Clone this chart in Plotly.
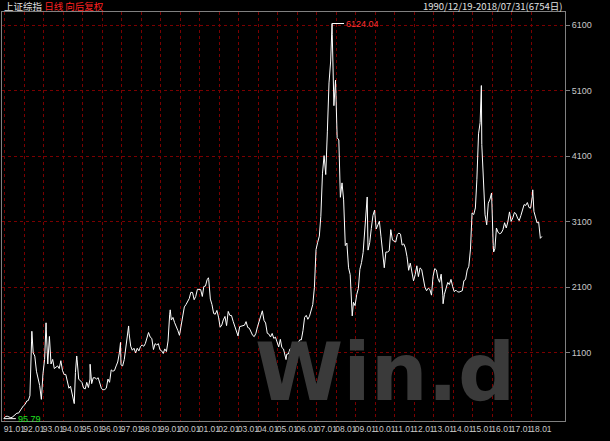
import plotly.graph_objects as go

# monthly approximate levels of 上证综指
years = list(range(1991, 2019))
monthly = {
    1991: [129, 133, 120, 113, 114, 137, 146, 180, 180, 218, 259, 292],
    1992: [313, 365, 372, 445, 1266, 1100, 1050, 820, 720, 600, 390, 780],
    1993: [1000, 1450, 930, 1350, 930, 1000, 860, 880, 900, 860, 980, 833],
    1994: [770, 770, 640, 560, 590, 470, 333, 800, 1000, 700, 680, 648],
    1995: [560, 550, 650, 570, 700, 630, 720, 720, 700, 720, 620, 555],
    1996: [537, 540, 560, 700, 650, 840, 820, 830, 900, 960, 1100, 917],
    1997: [900, 1000, 1150, 1350, 1400, 1200, 1140, 1170, 1100, 1170, 1130, 1194],
    1998: [1220, 1200, 1240, 1340, 1410, 1340, 1320, 1150, 1240, 1220, 1240, 1146],
    1999: [1130, 1090, 1160, 1120, 1280, 1690, 1600, 1640, 1560, 1510, 1440, 1367],
    2000: [1535, 1714, 1800, 1836, 1894, 1928, 2023, 2021, 1910, 1961, 2070, 2073],
    2001: [2065, 1960, 2112, 2119, 2214, 2218, 1920, 1834, 1700, 1689, 1747, 1646],
    2002: [1490, 1525, 1603, 1655, 1515, 1732, 1671, 1670, 1581, 1507, 1444, 1358],
    2003: [1500, 1511, 1510, 1521, 1576, 1487, 1476, 1421, 1367, 1348, 1397, 1497],
    2004: [1590, 1675, 1741, 1595, 1555, 1399, 1386, 1342, 1396, 1320, 1340, 1266],
    2005: [1191, 1306, 1181, 1159, 1060, 1080, 1083, 1162, 1155, 1092, 1099, 1161],
    2006: [1258, 1299, 1298, 1440, 1641, 1672, 1612, 1658, 1752, 1837, 2099, 2675],
    2007: [2786, 2881, 3183, 3841, 4109, 3820, 4471, 5218, 5552, 5954, 4871, 5261],
    2008: [4383, 4348, 3473, 3693, 3433, 2736, 2775, 2397, 2293, 1729, 1871, 1820],
    2009: [1990, 2082, 2373, 2477, 2632, 2959, 3412, 2667, 2779, 2996, 3195, 3277],
    2010: [2989, 3051, 3109, 2870, 2592, 2398, 2638, 2638, 2656, 2979, 2820, 2808],
    2011: [2790, 2905, 2928, 2911, 2743, 2762, 2701, 2567, 2359, 2468, 2333, 2199],
    2012: [2292, 2428, 2263, 2396, 2372, 2225, 2103, 2047, 2086, 2069, 1980, 2269],
    2013: [2385, 2365, 2236, 2177, 2300, 1979, 1993, 2098, 2174, 2141, 2220, 2116],
    2014: [2033, 2056, 2033, 2026, 2039, 2048, 2201, 2217, 2364, 2420, 2683, 3235],
    2015: [3210, 3310, 3748, 4441, 4612, 4277, 3664, 3206, 3053, 3383, 3445, 3539],
    2016: [2738, 2688, 3004, 2938, 2917, 2930, 2979, 3085, 3005, 3100, 3250, 3104],
    2017: [3159, 3242, 3223, 3155, 3117, 3192, 3273, 3361, 3349, 3393, 3317, 3307],
    2018: [3481, 3259, 3169, 3082, 3095, 2847, 2876],
}
# extreme points between the monthly readings
extra_dates = ["1990-12-19", "1992-05-26", "1993-02-16", "1994-07-29", "1994-09-13",
               "1995-05-22", "1996-12-11", "1997-05-12", "1999-06-30", "2001-06-14",
               "2005-06-06", "2007-10-16", "2008-10-28", "2009-08-04", "2013-06-25",
               "2015-06-12", "2016-01-28", "2018-01-29"]
extra_values = [95.79, 1429, 1558, 325, 1052, 926, 1258, 1510, 1756, 2245,
                998, 6124.04, 1664, 3478, 1849, 5178, 2638, 3587]

pts = [(f"{y}-{m + 1:02d}-20", v) for y in years for m, v in enumerate(monthly[y])]
pts += list(zip(extra_dates, extra_values))
pts.sort()
dates = [p[0] for p in pts]
values = [p[1] for p in pts]

tick_labels = [f"{str(y)[2:]}.01" for y in years]
grid_col = "#7a0000"

fig = go.Figure()
fig.add_trace(go.Scatter(x=dates, y=values, mode="lines",
                         line=dict(color="white", width=1), hoverinfo="skip"))

fig.update_layout(
    width=610, height=441, showlegend=False,
    paper_bgcolor="black", plot_bgcolor="black",
    margin=dict(l=2, r=45, t=12, b=20, autoexpand=False),
    font=dict(family="Liberation Sans", color="#c8c8c8", size=9),
    xaxis=dict(range=["1990-11-14", "2019-09-25"],
               tickvals=[f"{y}-07-02" for y in years], ticktext=tick_labels,
               showgrid=False, ticks="", tickangle=0, automargin=False,
               tickfont=dict(size=8.5),
               minor=dict(tickvals=[f"{y}-01-01" for y in years], showgrid=True,
                          gridcolor=grid_col, griddash="dot", gridwidth=1),
               showline=True, linecolor="#808080", mirror=True, zeroline=False),
    yaxis=dict(range=[60, 6300], side="right", tickvals=[1100, 2100, 3100, 4100, 5100, 6100],
               gridcolor=grid_col, griddash="dot", ticks="outside", ticklen=4,
               automargin=False,
               tickcolor="#808080", showline=True, linecolor="#808080", mirror=True,
               zeroline=False),
)

fig.add_annotation(x=0.68, y=0.0, xref="paper", yref="paper", xanchor="center",
                   yanchor="bottom", text="<b>Win.d</b>", showarrow=False,
                   font=dict(size=80, color="#3a3a3a", family="DejaVu Sans"))
fig.add_annotation(x=0, y=1, xref="paper", yref="paper", xanchor="left", yanchor="middle",
                   yshift=6, showarrow=False,
                   text="上证综指 <span style='color:#ff2020'>日线 向后复权</span>",
                   font=dict(size=9.5, color="#e0e0e0", family="Noto Sans CJK SC"))
fig.add_annotation(x=1, y=1, xref="paper", yref="paper", xanchor="right", yanchor="middle",
                   yshift=6, showarrow=False, text="1990/12/19-2018/07/31(6754日)",
                   font=dict(size=9.5, color="#e0e0e0", family="Noto Sans CJK SC"))
fig.add_annotation(x="2007-10-16", y=6124.04, text="6124.04", xanchor="left", ax=12, ay=0,
                   arrowcolor="white", arrowwidth=1, arrowhead=0,
                   font=dict(size=9, color="#ff3030"))
fig.add_annotation(x="1990-12-19", y=95.79, text="95.79", xanchor="left", ax=12, ay=0,
                   arrowcolor="white", arrowwidth=1, arrowhead=0,
                   font=dict(size=9, color="#20e020"))

fig.write_html("out.html", config={"displayModeBar": False},
               post_script="document.body.style.margin='0';")
